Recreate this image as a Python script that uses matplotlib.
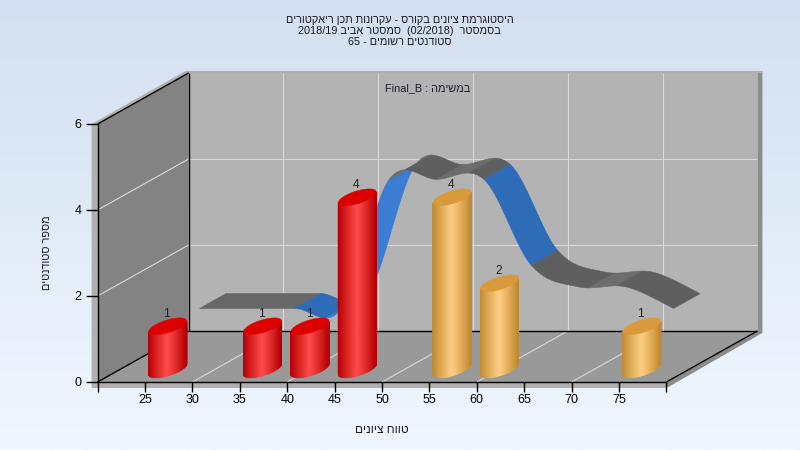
import re
import numpy as np
import matplotlib
matplotlib.use("Agg")
import matplotlib.pyplot as plt
from matplotlib.patches import Polygon
from matplotlib.colors import LinearSegmentedColormap, to_rgb

plt.rcParams['font.family'] = ['Liberation Sans', 'DejaVu Sans']

# ---- data ----
title_lines = ["היסטוגרמת ציונים בקורס - עקרונות תכן ריאקטורים",
               "בסמסטר  (02/2018)  סמסטר אביב 2018/19",
               "סטודנטים רשומים - 65"]
task_label = "במשימה : Final_B"
x_label = "טווח ציונים"
y_label = "מספר סטודנטים"
bar_grades = [25, 35, 40, 45, 55, 60, 75]
bar_counts = [1, 1, 1, 4, 4, 2, 1]
bar_kinds = ['red', 'red', 'red', 'red', 'orange', 'orange', 'orange']
line_grades = [25, 30, 35, 40, 45, 50, 55, 60, 65, 70, 75]
line_values = [1, 1, 1, 1, 4, 4, 4, 2, 1.5, 1.5, 1]
line_blue_spans = [(35, 45), (55, 60)]
x_ticks = list(range(20, 85, 5))
y_ticks = [0, 2, 4, 6]

# ---- style ----
W, H = 800, 450
DX, DY = 9.6, 1.186          # data offset of the full chart depth
BAR_T = 0.25
BAR_A, BAR_TIP, BAR_C = 2.0, 0.123, 0.151   # ellipse half width, tilt, half thickness
RIB_T0, RIB_T1 = 0.60, 0.89
PALETTE = {'red': ('#b40000', '#ff4a4a', '#de0000'),
           'orange': ('#c08a30', '#ffcd80', '#d89a3a')}


def visual(s):
    """matplotlib has no bidi layout: put the logical string in display order."""
    r = s[::-1]
    r = re.sub(r'[A-Za-z0-9_/.]+', lambda m: m.group()[::-1], r)
    return r.translate(str.maketrans('()', ')('))


def proj(g, v, t):
    return g + np.asarray(t) * DX, v + np.asarray(t) * DY


fig = plt.figure(figsize=(W / 100, H / 100), dpi=100)

bg = fig.add_axes([0, 0, 1, 1], zorder=0)
bg.imshow(np.linspace(0, 1, 256)[:, None], aspect='auto',
          cmap=LinearSegmentedColormap.from_list('b', ['#d3e0f1', '#f0f7ff']))
bg.axis('off')

L, R, B, T = 97.6, 666.4, 382, 124
ax = fig.add_axes([L / W, (H - B) / H, (R - L) / W, (B - T) / H], zorder=1)
ax.patch.set_visible(False)
ax.set_xlim(20, 80)
ax.set_ylim(0, 6)
xmin, xmax, ymax = 20, 80, 6


def poly(g_v_t, color, z, ec=None, lw=0):
    pts = [proj(*p) for p in g_v_t]
    ax.add_patch(Polygon(pts, closed=True, fc=color, ec=ec or 'none', lw=lw,
                         zorder=z, clip_on=False))


def line3(a, b, color, lw, z):
    pa, pb = proj(*a), proj(*b)
    ax.plot([pa[0], pb[0]], [pa[1], pb[1]], color=color, lw=lw, zorder=z,
            clip_on=False, solid_capstyle='butt')


# outer thickness of the box (pixel sizes turned into data units)
px = 60 / (R - L)
py = 6 / (B - T)
xs, ys = 6 * px, 6 * py
ax.add_patch(Polygon([(xmin - xs, -ys), (xmax, -ys), (xmax + DX + 5 * px, DY - ys * 0.3),
                      (xmax + DX, DY), (xmax, 0), (xmin, 0)],
                     fc='#aeaeae', ec='none', zorder=0.5, clip_on=False))
ax.add_patch(Polygon([(xmax, -ys), (xmax + DX + 5 * px, DY - ys * 0.3),
                      (xmax + DX + 5 * px, ymax + DY + ys * 0.35), (xmax + DX, ymax + DY),
                      (xmax + DX, DY), (xmax, 0)],
                     fc='#8c8c8c', ec='none', zorder=0.5, clip_on=False))
ax.add_patch(Polygon([(xmin - xs, -ys), (xmin, 0), (xmin, ymax), (xmin + DX, ymax + DY),
                      (xmax + DX + 5 * px, ymax + DY),
                      (xmax + DX + 5 * px, ymax + DY + ys * 0.35),
                      (xmin + DX - 3 * px, ymax + DY + ys * 0.35), (xmin - xs, ymax)],
                     fc='#b0b0b0', ec='none', zorder=0.5, clip_on=False))

# walls and floor
poly([(xmin, 0, 1), (xmax, 0, 1), (xmax, ymax, 1), (xmin, ymax, 1)], '#b3b3b3', 1)
poly([(xmin, 0, 0), (xmax, 0, 0), (xmax, 0, 1), (xmin, 0, 1)], '#999999', 1)
poly([(xmin, 0, 0), (xmin, 0, 1), (xmin, ymax, 1), (xmin, ymax, 0)], '#838383', 1)

# grid
GRID = '#d8d8d8'
for g in [30, 40, 50, 60, 70]:
    line3((g, 0, 0), (g, 0, 1), GRID, 0.8, 1.2)
    line3((g, 0, 1), (g, ymax, 1), GRID, 0.8, 1.2)
for v in [2, 4]:
    line3((xmin, v, 0), (xmin, v, 1), GRID, 0.8, 1.2)
    line3((xmin, v, 1), (xmax, v, 1), GRID, 0.8, 1.2)

# box edges
for a, b in [((xmin, 0, 1), (xmax, 0, 1)), ((xmin, 0, 0), (xmin, 0, 1)),
             ((xmax, 0, 0), (xmax, 0, 1)), ((xmin, ymax, 0), (xmin, ymax, 1)),
             ((xmin, 0, 1), (xmin, ymax, 1))]:
    line3(a, b, 'black', 1, 1.5)

# ribbon: smooth curve through the series, one polygon per run of equal shade
gx, gy = np.array(line_grades, float), np.array(line_values, float)
mx = (np.r_[gx[1:], gx[-1]] - np.r_[gx[0], gx[:-1]]) / 2
my = (np.r_[gy[1:], gy[-1]] - np.r_[gy[0], gy[:-1]]) / 2
u = np.linspace(0, 1, 25)
h00, h10 = 2*u**3 - 3*u**2 + 1, u**3 - 2*u**2 + u
h01, h11 = -2*u**3 + 3*u**2, u**3 - u**2


def flush(run, col):
    if len(run) > 1:
        poly([(a, b, RIB_T0) for a, b in run] + [(a, b, RIB_T1) for a, b in run[::-1]],
             col, 3, ec=col, lw=0.4)


run, run_col = [], None
for i in range(len(gx) - 1):
    cx = h00*gx[i] + h10*mx[i] + h01*gx[i+1] + h11*mx[i+1]
    cy = h00*gy[i] + h10*my[i] + h01*gy[i+1] + h11*my[i+1]
    blue = any(a <= gx[i] and gx[i+1] <= b for a, b in line_blue_spans)
    for j in range(len(u) - 1):
        slope = cy[j+1] - cy[j]
        if blue:
            col = '#3b7dd2' if slope > 0 else '#2f6cb8'
        elif slope > 1e-4:
            col = '#6d6d6d'
        elif slope < -1e-4:
            col = '#5f5f5f'
        else:
            col = '#676767'
        if col != run_col:
            flush(run, run_col)
            run = [(cx[j], cy[j])]
            run_col = col
        run.append((cx[j+1], cy[j+1]))
flush(run, run_col)

# cylinders
phi_low = np.linspace(np.pi, 2 * np.pi, 61)
phi_all = np.linspace(0, 2 * np.pi, 90)
for k, (g, n, kind) in enumerate(zip(bar_grades, bar_counts, bar_kinds)):
    edge, mid, top = PALETTE[kind]
    e, m = np.array(to_rgb(edge)), np.array(to_rgb(mid))
    cx0, cy0 = proj(g, 0, BAR_T)
    ox = BAR_A * np.cos(phi_low)
    oy = BAR_TIP * np.cos(phi_low) + BAR_C * np.sin(phi_low)
    s = (ox + BAR_A) / (2 * BAR_A)
    for j in range(len(phi_low) - 1):
        sm = (s[j] + s[j+1]) / 2
        f = np.clip(1 - abs(2 * sm - 1) ** 1.1, 0, 1)
        c = tuple(e + (m - e) * f)
        ax.add_patch(Polygon([(cx0 + ox[j], cy0 + oy[j]), (cx0 + ox[j+1], cy0 + oy[j+1]),
                              (cx0 + ox[j+1], cy0 + n + oy[j+1]), (cx0 + ox[j], cy0 + n + oy[j])],
                             fc=c, ec=c, lw=0.7, zorder=4 + k * 0.01, clip_on=False))
    tx = cx0 + BAR_A * np.cos(phi_all)
    ty = cy0 + n + BAR_TIP * np.cos(phi_all) + BAR_C * np.sin(phi_all)
    ax.fill(tx, ty, color=top, lw=0.3, zorder=4.005 + k * 0.01, clip_on=False)
    ax.text(cx0 - 0.1, cy0 + n + 0.29, str(n), ha='center', va='center', fontsize=8.6,
            color='#222222', zorder=6, clip_on=False)

# axes, ticks, texts
for sp in ['top', 'right']:
    ax.spines[sp].set_visible(False)
ax.spines['left'].set_linewidth(1)
ax.spines['bottom'].set_linewidth(1)
ax.set_xticks(x_ticks)
ax.set_xticklabels(['' if g in (20, 80) else str(g) for g in x_ticks])
ax.set_yticks(y_ticks)
ax.tick_params(axis='x', length=7, width=1, labelsize=9, pad=1.5, colors='black')
ax.tick_params(axis='y', length=8.5, width=1, labelsize=9, pad=3, colors='black')
ax.set_xlabel(visual(x_label), fontsize=8.6, color='#1a1a2a', labelpad=13)
ax.set_ylabel(visual(y_label), fontsize=7.8, color='#1a1a2a', labelpad=16)

fig.text(399.5 / W, 1 - 31 / H, "\n".join(visual(t) for t in title_lines), ha='center',
         va='center', fontsize=7.85, color='#1a1a2a', linespacing=1.12)
fig.text(428 / W, 1 - 88 / H, visual(task_label), ha='center', va='center',
         fontsize=7.85, color='#1a1a2a')

fig.savefig('out.png', dpi=100)
